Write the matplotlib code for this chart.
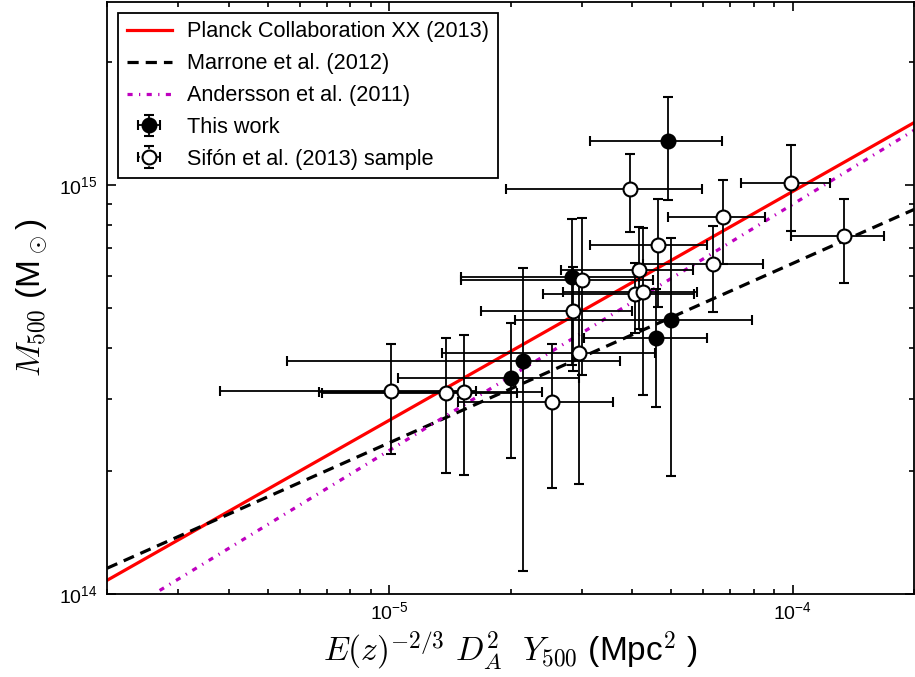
import matplotlib
matplotlib.use("Agg")
import matplotlib.pyplot as plt
import numpy as np
from matplotlib.ticker import NullFormatter

plt.rcParams["font.family"] = ["Liberation Sans", "DejaVu Sans"]
plt.rcParams["mathtext.fontset"] = "custom"
plt.rcParams["mathtext.rm"] = "Liberation Sans"
plt.rcParams["mathtext.it"] = "Liberation Sans:italic"
plt.rcParams["mathtext.bf"] = "Liberation Sans:bold"

# scaling relations (Y in Mpc^2, M in Msun)
planck_y = [2.0e-6, 2.0e-4]
planck_m = [1.08e14, 1.42e15]
marrone_y = [2.0e-6, 2.0e-4]
marrone_m = [1.156e14, 8.71e14]
andersson_y = [2.7e-6, 2.0e-4]
andersson_m = [1.02e14, 1.36e15]

# this work: Y (1e-5 Mpc^2), M (1e14 Msun), 1-sigma errors
work_y = np.array([4.91, 2.84, 2.00, 2.15, 4.58, 4.99]) * 1e-5
work_yerr = np.array([1.76, 1.33, 0.95, 1.59, 1.54, 2.94]) * 1e-5
work_m = np.array([12.8, 5.94, 3.37, 3.71, 4.22, 4.67]) * 1e14
work_merr = np.array([3.6, 2.32, 1.22, 2.57, 1.35, 2.73]) * 1e14

# Sifon et al. (2013) sample
sifon_y = np.array([1.01, 1.38, 1.53, 2.53, 3.01, 2.85, 2.95, 3.95,
                    4.63, 4.16, 4.06, 4.25, 6.71, 6.34, 9.89, 13.37]) * 1e-5
sifon_yerr = np.array([0.63, 0.70, 0.86, 1.05, 1.50, 1.16, 1.60, 2.00,
                       1.49, 1.49, 1.65, 1.55, 1.81, 2.09, 2.46, 3.48]) * 1e-5
sifon_m = np.array([3.14, 3.10, 3.12, 2.95, 5.87, 4.91, 3.88, 9.78,
                    7.14, 6.18, 5.40, 5.46, 8.36, 6.42, 10.11, 7.51]) * 1e14
sifon_merr = np.array([0.94, 1.12, 1.17, 1.13, 2.44, 1.40, 2.02, 2.12,
                       2.11, 1.73, 1.06, 2.40, 1.94, 1.53, 2.40, 1.74]) * 1e14

fig = plt.figure(figsize=(9.15, 6.77), dpi=100)
ax = fig.add_axes([0.117, 0.1226, 0.882, 0.8745])

l1, = ax.plot(planck_y, planck_m, color="#ff0000", lw=2.3, zorder=2)
l2, = ax.plot(marrone_y, marrone_m, color="k", lw=2.3, ls=(0, (3.5, 2.2)), zorder=2)
l3, = ax.plot(andersson_y, andersson_m, color="m", lw=2.3,
              ls=(0, (1.6, 2.0, 0.4, 2.0)), zorder=2)

eb_kw = dict(fmt="o", color="k", ecolor="k", elinewidth=1.3, capsize=3.5,
             capthick=1.5, ms=10, mew=1.5, mec="k")
e1 = ax.errorbar(work_y, work_m, xerr=work_yerr, yerr=work_merr,
                 mfc="k", zorder=3, **eb_kw)
e2 = ax.errorbar(sifon_y, sifon_m, xerr=sifon_yerr, yerr=sifon_merr,
                 mfc="w", zorder=4, **eb_kw)

# legend proxy for the open symbols, drawn dotted as in the original
proxy = ax.errorbar([np.nan], [np.nan], xerr=[1], yerr=[1], mfc="w", **eb_kw)
for art in list(proxy[1]) + list(proxy[2]):
    art.set_linestyle(":")

ax.set_xscale("log")
ax.set_yscale("log")
ax.set_xlim(2e-6, 2e-4)
ax.set_ylim(1e14, 2.8e15)
ax.xaxis.set_minor_formatter(NullFormatter())
ax.yaxis.set_minor_formatter(NullFormatter())
ax.tick_params(which="both", direction="in", top=True, right=True,
               labelsize=14, width=1.2)
ax.tick_params(which="major", length=6.5)
ax.tick_params(which="minor", length=3.5)
ax.tick_params(axis="x", pad=5)
ax.tick_params(axis="y", pad=7)
for sp in ax.spines.values():
    sp.set_linewidth(1.3)

ax.set_xlabel(r"$E(z)^{-2/3}\ D_A^2\ \ Y_{500}$ (Mpc$^2$ )", fontsize=24,
              math_fontfamily="cm", labelpad=4)
ax.set_ylabel(r"$M_{500}$ (M$_\odot$)", fontsize=24, math_fontfamily="cm",
              labelpad=6)

leg = ax.legend([l1, l2, l3, e1, proxy],
                ["Planck Collaboration XX (2013)", "Marrone et al. (2012)",
                 "Andersson et al. (2011)", "This work",
                 "Sifón et al. (2013) sample"],
                loc="upper left", fontsize=15.6, fancybox=False, framealpha=1,
                edgecolor="k", labelspacing=0.5, handlelength=2.1,
                handletextpad=0.7, borderpad=0.4)
leg.get_frame().set_linewidth(1.3)

fig.savefig("out.png", dpi=100)
